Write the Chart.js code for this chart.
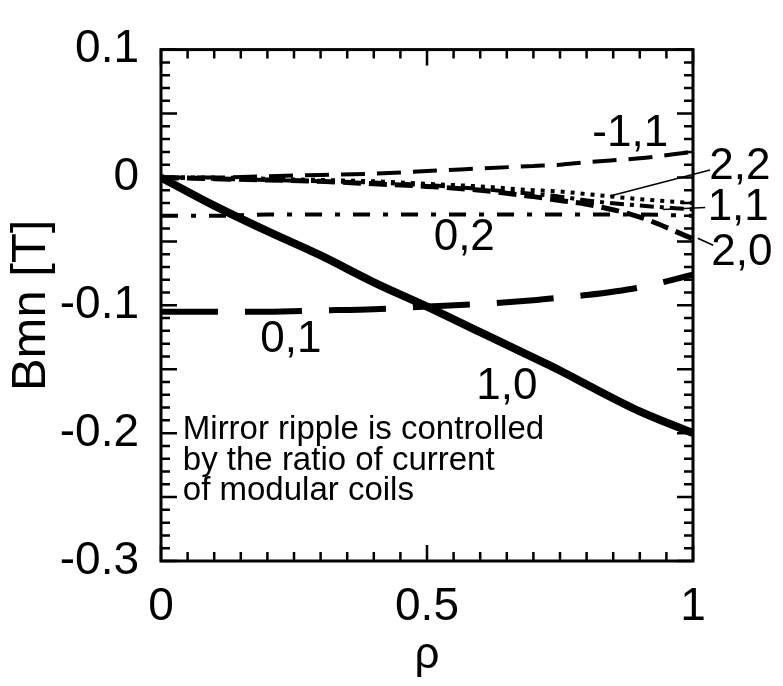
<!DOCTYPE html>
<html>
<head>
<meta charset="utf-8">
<script src="https://cdn.jsdelivr.net/npm/chart.js@4"></script>
<style>
  html, body { margin: 0; padding: 0; background: #fff; }
  #wrap { width: 783px; height: 686px; }
</style>
</head>
<body>
<div id="wrap"><canvas id="bmnChart"></canvas></div>
<script>
// rho values shared by every curve
var rho = [0, 0.1, 0.2, 0.3, 0.4, 0.5, 0.6, 0.7, 0.75, 0.8, 0.9, 1.0];

// Bmn [T] for each (m,n) harmonic
var b10  = [0, -0.022, -0.042, -0.061, -0.082, -0.101, -0.121, -0.141, -0.151, -0.162, -0.183, -0.200];
var b01  = [-0.105, -0.105, -0.105, -0.104, -0.103, -0.101, -0.099, -0.096, -0.094, -0.092, -0.086, -0.076];
var b02  = [-0.030, -0.030, -0.029, -0.029, -0.029, -0.029, -0.029, -0.029, -0.029, -0.029, -0.029, -0.030];
var bm11 = [0, 0.000, 0.001, 0.002, 0.003, 0.005, 0.007, 0.009, 0.010, 0.012, 0.015, 0.020];
var b22  = [0, 0.000, -0.001, -0.002, -0.003, -0.005, -0.007, -0.010, -0.011, -0.013, -0.017, -0.020];
var b11  = [0, -0.001, -0.002, -0.003, -0.004, -0.006, -0.009, -0.013, -0.015, -0.018, -0.022, -0.025];
var b20  = [0, -0.001, -0.002, -0.003, -0.005, -0.007, -0.010, -0.015, -0.018, -0.021, -0.031, -0.048];

// curve labels: text, rho, Bmn
var curveLabels = [
    ["-1,1", 0.882, 0.034],
    ["2,2", 1.088, 0.008],
    ["1,1", 1.085, -0.024],
    ["2,0", 1.092, -0.059],
    ["0,2", 0.57, -0.047],
    ["0,1", 0.244, -0.127],
    ["1,0", 0.65, -0.164]
];
// leader lines from label to curve
var leaders = [
    [[1.032, 0.0058], [0.844, -0.0145]],
    [[0.944, -0.0250], [1.023, -0.0235]],
    [[1.009, -0.0476], [1.038, -0.0530]]
];
var noteLines = ["Mirror ripple is controlled", "by the ratio of current", "of modular coils"];

var FONT = '"Liberation Sans", Arial, Helvetica, sans-serif';

function pts(ys) {
    return rho.map(function (r, i) { return { x: r, y: ys[i] }; });
}
function serie(label, ys, width, dash) {
    return {
        label: label,
        data: pts(ys),
        borderColor: '#000',
        borderWidth: width,
        borderDash: dash,
        pointRadius: 0,
        fill: false,
        cubicInterpolationMode: 'monotone'
    };
}

var framePlugin = {
    id: 'frame',
    afterDatasetsDraw: function (chart) {
        var c = chart.ctx, a = chart.chartArea;
        var xs = chart.scales.x, ys = chart.scales.y;
        c.save();
        c.strokeStyle = '#000';
        c.lineWidth = 3;
        c.strokeRect(a.left, a.top, a.right - a.left, a.bottom - a.top);

        // inward ticks, y every 0.01, longer every 0.05
        c.lineWidth = 2.5;
        for (var i = -30; i <= 10; i++) {
            var py = ys.getPixelForValue(i / 100);
            var len = (i % 5 === 0) ? 16 : 9;
            c.beginPath();
            c.moveTo(a.left, py); c.lineTo(a.left + len, py);
            c.moveTo(a.right, py); c.lineTo(a.right - len, py);
            c.stroke();
        }
        // x every 0.05, longer at 0.5
        for (var j = 0; j <= 20; j++) {
            var px = xs.getPixelForValue(j / 20);
            var l2 = (j % 10 === 0) ? 16 : 9;
            c.beginPath();
            c.moveTo(px, a.bottom); c.lineTo(px, a.bottom - l2);
            c.moveTo(px, a.top); c.lineTo(px, a.top + l2);
            c.stroke();
        }

        // leader lines
        c.lineWidth = 1.5;
        leaders.forEach(function (ld) {
            c.beginPath();
            c.moveTo(xs.getPixelForValue(ld[0][0]), ys.getPixelForValue(ld[0][1]));
            c.lineTo(xs.getPixelForValue(ld[1][0]), ys.getPixelForValue(ld[1][1]));
            c.stroke();
        });

        // curve labels
        c.fillStyle = '#000';
        c.font = '44px ' + FONT;
        c.textAlign = 'center';
        c.textBaseline = 'middle';
        curveLabels.forEach(function (lb) {
            c.fillText(lb[0], xs.getPixelForValue(lb[1]), ys.getPixelForValue(lb[2]));
        });

        // note
        c.font = '33px ' + FONT;
        c.textAlign = 'left';
        c.textBaseline = 'alphabetic';
        var nx = xs.getPixelForValue(0.041);
        noteLines.forEach(function (t, k) {
            c.fillText(t, nx, ys.getPixelForValue(-0.2044 - k * 0.0241));
        });
        c.restore();
    }
};

var ctx = document.getElementById('bmnChart').getContext('2d');
var myChart = new Chart(ctx, {
    type: 'line',
    data: {
        datasets: [
            serie('1,0', b10, 8, []),
            serie('0,1', b01, 6, [57, 27]),
            serie('0,2', b02, 4, [17, 13, 5, 13]),
            serie('-1,1', bm11, 4, [24, 12]),
            serie('2,2', b22, 4, [4, 6]),
            serie('1,1', b11, 4, [14, 6, 4, 6]),
            serie('2,0', b20, 5, [18, 8])
        ]
    },
    options: {
        responsive: true,
        maintainAspectRatio: false,
        animation: false,
        layout: { padding: { top: 30, right: 90, left: 0, bottom: 0 } },
        plugins: {
            legend: { display: false },
            tooltip: { enabled: false }
        },
        scales: {
            x: {
                type: 'linear',
                min: 0,
                max: 1,
                grid: { display: false, drawTicks: false },
                border: { display: false },
                ticks: {
                    stepSize: 0.5,
                    padding: 19,
                    color: '#000',
                    font: { family: FONT, size: 46 },
                    maxRotation: 0,
                    callback: function (value) {
                        return String(Math.round(value * 10) / 10);
                    }
                },
                title: {
                    display: true,
                    text: 'ρ',
                    color: '#000',
                    font: { family: FONT, size: 44 },
                    padding: { top: 0, bottom: 4 }
                },
                afterFit: function (scale) { scale.height = 125; }
            },
            y: {
                min: -0.3,
                max: 0.1,
                grid: { display: false, drawTicks: false },
                border: { display: false },
                ticks: {
                    stepSize: 0.1,
                    padding: 22,
                    color: '#000',
                    font: { family: FONT, size: 46 }
                },
                title: {
                    display: true,
                    text: 'Bmn [T]',
                    color: '#000',
                    font: { family: FONT, size: 49 },
                    padding: { top: 2, bottom: 0 }
                },
                afterFit: function (scale) { scale.width = 161; }
            }
        }
    },
    plugins: [framePlugin]
});
</script>
</body>
</html>
